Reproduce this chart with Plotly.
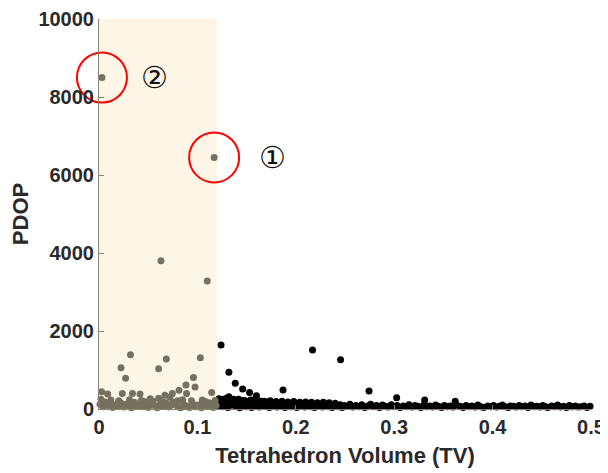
import plotly.graph_objects as go

# ---- data ----
shade_tv_max = 0.12

grey_tv = [0.003, 0.117, 0.063, 0.110,
           0.0224, 0.027, 0.032, 0.0606, 0.0684, 0.103, 0.096, 0.0884, 0.0976, 0.0813, 0.0745, 0.1145, 0.089,
           0.0027, 0.0088, 0.0237, 0.034, 0.0417, 0.052, 0.0606, 0.067, 0.072, 0.080, 0.105, 0.112, 0.046,
           0.001, 0.004, 0.006, 0.009, 0.011, 0.014, 0.017, 0.019, 0.022, 0.025, 0.028, 0.030, 0.033, 0.036,
           0.039, 0.041, 0.044, 0.047, 0.050, 0.053, 0.056, 0.059, 0.062, 0.065, 0.068, 0.071, 0.074, 0.077,
           0.080, 0.083, 0.086, 0.089, 0.092, 0.095, 0.098, 0.101, 0.104, 0.107, 0.110, 0.113, 0.116, 0.119,
           0.002, 0.012, 0.020, 0.031, 0.043, 0.055, 0.064, 0.075, 0.085, 0.094, 0.108, 0.118]
grey_pdop = [8500, 6450, 3800, 3280,
             1060, 790, 1390, 1030, 1280, 1315, 810, 615, 565, 480, 400, 420, 400,
             445, 385, 400, 400, 385, 265, 275, 350, 300, 210, 230, 160, 190,
             120, 60, 180, 90, 140, 40, 110, 70, 160, 50, 130, 90, 30, 170,
             80, 140, 60, 110, 40, 150, 90, 30, 120, 70, 160, 50, 100, 140,
             60, 30, 120, 80, 40, 150, 60, 100, 30, 140, 70, 110, 40, 90,
             250, 230, 210, 240, 220, 200, 190, 180, 240, 210, 190, 220]

black_tv = [0.124, 0.132, 0.1385, 0.146, 0.153, 0.160, 0.187, 0.217, 0.2455, 0.2744, 0.3025, 0.132, 0.331, 0.362,
            0.121, 0.123, 0.125, 0.127, 0.129, 0.131, 0.133, 0.135, 0.137, 0.139, 0.141, 0.143, 0.145, 0.147,
            0.149, 0.151, 0.153, 0.155, 0.157, 0.159, 0.161, 0.163, 0.165, 0.167, 0.169, 0.171, 0.173, 0.175,
            0.177, 0.179, 0.181, 0.183, 0.185, 0.187, 0.189, 0.191, 0.193, 0.195, 0.197, 0.199, 0.201, 0.203,
            0.205, 0.207, 0.209, 0.211, 0.213, 0.215, 0.217, 0.219, 0.221, 0.223, 0.225, 0.227, 0.229, 0.231,
            0.233, 0.235, 0.237, 0.239, 0.241, 0.243, 0.245, 0.247, 0.249, 0.252, 0.255, 0.258, 0.261, 0.264,
            0.267, 0.270, 0.273, 0.276, 0.279, 0.282, 0.285, 0.288, 0.291, 0.294, 0.297, 0.300, 0.303, 0.306,
            0.309, 0.312, 0.315, 0.318, 0.321, 0.324, 0.327, 0.330, 0.333, 0.336, 0.339, 0.342, 0.345, 0.348,
            0.351, 0.354, 0.357, 0.360, 0.363, 0.367, 0.370, 0.373, 0.376, 0.379, 0.382, 0.385, 0.388, 0.391,
            0.395, 0.398, 0.401, 0.404, 0.407, 0.410, 0.413, 0.416, 0.418,
            0.421, 0.424, 0.427, 0.430, 0.433, 0.436, 0.439, 0.442, 0.445, 0.448, 0.451, 0.454, 0.456,
            0.460, 0.463, 0.466, 0.469, 0.472, 0.475, 0.478, 0.481, 0.484, 0.487,
            0.490, 0.493, 0.496, 0.499,
            0.122, 0.126, 0.130, 0.134, 0.138, 0.142, 0.148, 0.154, 0.162, 0.168, 0.174, 0.180, 0.186, 0.192,
            0.198, 0.204, 0.210, 0.216, 0.222, 0.228, 0.234, 0.240]
black_pdop = [1640, 940, 660, 510, 425, 340, 485, 1510, 1265, 460, 290, 315, 230, 200,
              90, 150, 60, 200, 120, 40, 180, 100, 250, 70, 160, 30, 220, 110,
              60, 190, 140, 40, 230, 90, 160, 50, 200, 120, 70, 180, 40, 140,
              90, 170, 50, 130, 80, 160, 40, 120, 150, 60, 100, 140, 40, 110,
              70, 130, 50, 100, 140, 60, 90, 40, 120, 70, 110, 50, 90, 130,
              60, 100, 40, 120, 80, 60, 110, 40, 90, 70, 120, 50, 90, 60,
              110, 40, 80, 120, 60, 90, 40, 100, 70, 50, 110, 60, 90, 40,
              80, 60, 110, 50, 90, 70, 40, 100, 60, 80, 50, 100, 70, 40,
              90, 60, 80, 50, 100, 70, 40, 90, 60, 80, 50, 100, 60, 40,
              80, 60, 90, 50, 70, 100, 60, 40, 80,
              70, 50, 90, 60, 80, 40, 100, 60, 70, 50, 90, 60, 40,
              80, 60, 100, 50, 70, 40, 90, 60, 80, 50,
              60, 80, 40, 70,
              260, 250, 280, 240, 230, 250, 220, 230, 210, 200, 210, 190, 200, 180,
              190, 170, 180, 170, 160, 170, 160, 150]

x_ticks = [0, 0.1, 0.2, 0.3, 0.4, 0.5]
x_tick_text = ["0", "0.1", "0.2", "0.3", "0.4", "0.5"]
y_ticks = [0, 2000, 4000, 6000, 8000, 10000]
y_tick_text = ["0", "2000", "4000", "6000", "8000", "10000"]

circled_labels = ["①", "②"]
circled_index = [1, 0]          # index into grey arrays
circled_label_offset = [58, 53]  # horizontal label offset (px)

# ---- figure ----
fig = go.Figure()

fig.add_shape(type="rect", xref="x", yref="y", x0=0, x1=shade_tv_max, y0=0, y1=10000,
              fillcolor="#fdf6e6", line_width=0, layer="below")

fig.add_trace(go.Scatter(x=black_tv, y=black_pdop, mode="markers", cliponaxis=False,
                         marker=dict(size=7, color="#000000", line_width=0), showlegend=False,
                         hoverinfo="skip"))
fig.add_trace(go.Scatter(x=grey_tv, y=grey_pdop, mode="markers", cliponaxis=False,
                         marker=dict(size=7, color="#767061", line_width=0), showlegend=False,
                         hoverinfo="skip"))

# red circles around the highlighted points (open markers so they are not clipped)
cx = [grey_tv[i] for i in circled_index]
cy = [grey_pdop[i] for i in circled_index]
fig.add_trace(go.Scatter(x=cx, y=cy, mode="markers", cliponaxis=False, showlegend=False,
                         hoverinfo="skip",
                         marker=dict(symbol="circle-open", size=50,
                                     line=dict(color="#ff0000", width=2), color="#ff0000")))

for label, x, y, dx in zip(circled_labels, cx, cy, circled_label_offset):
    fig.add_annotation(x=x, y=y, xref="x", yref="y", text=label, showarrow=False,
                       xshift=dx, font=dict(size=30, color="#111111", family="DejaVu Sans"))

axis_font = dict(family="Liberation Sans, Arial", size=20, color="#2a2a2a", weight="bold")
title_font = dict(family="Liberation Sans, Arial", size=22, color="#2a2a2a", weight="bold")

fig.update_xaxes(range=[0, 0.5], tickvals=x_ticks, ticktext=x_tick_text, tickfont=axis_font,
                 showgrid=False, zeroline=False, showline=True, linecolor="#8a8374", linewidth=1,
                 ticks="inside", ticklen=4, tickcolor="#8a8374",
                 title=dict(text="Tetrahedron Volume (TV)", font=title_font, standoff=10))
fig.update_yaxes(range=[0, 10000], tickvals=y_ticks, ticktext=y_tick_text, tickfont=axis_font,
                 showgrid=False, zeroline=False, showline=True, linecolor="#8a8374", linewidth=1,
                 ticks="inside", ticklen=5, tickcolor="#8a8374",
                 title=dict(text="PDOP", font=title_font, standoff=8))

# page body adds an 8px margin, so the figure is 8px smaller and margins shifted
fig.update_layout(width=600, height=465, plot_bgcolor="white", paper_bgcolor="white",
                  margin=dict(l=91, r=17, t=11, b=64, autoexpand=False))

fig.write_html("out.html")
